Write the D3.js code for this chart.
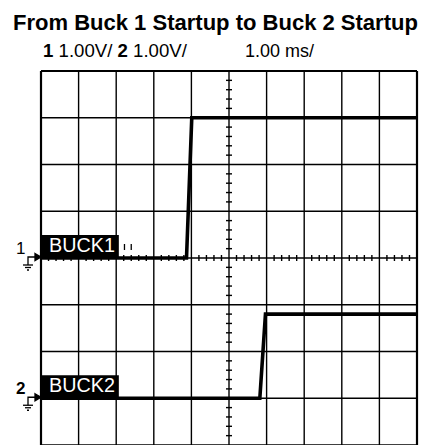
<!DOCTYPE html>
<html><head><meta charset="utf-8">
<script src="https://cdn.jsdelivr.net/npm/d3@7"></script>
<style>body{margin:0;background:#fff}svg{display:block}</style>
</head><body>
<svg id="c" width="428" height="445"></svg>
<script>
const title = "From Buck 1 Startup to Buck 2 Startup";
const timeDivs = d3.range(0, 11);        // ms grid lines (1.00 ms/div)
const voltDivs = d3.range(-4, 5);        // vertical divisions
const buck1Time = [0, 3.87, 4.01, 10];   // ms
const buck1Volt = [0, 0, 3.0, 3.0];      // V (1.00 V/div)
const buck2Time = [0, 5.82, 5.97, 10];
const buck2Volt = [0, 0, 1.8, 1.8];
const channelOffsets = [0, -3];          // ground position in divisions
const channelNames = ["BUCK1", "BUCK2"];
const markerTimes = [2.22, 2.4];

const FONT = "Liberation Sans, Arial, Helvetica, sans-serif";
const svg = d3.select("#c");
const x = d3.scaleLinear().domain([0, 10]).range([41, 417]);
const y = d3.scaleLinear().domain([4, -4]).range([71, 445]);

// fit a text's font size so that its width matches a target width
function fit(sel, base, target) {
  sel.attr("font-size", base);
  const w = sel.node().getBBox().width;
  sel.attr("font-size", base * target / w);
  return sel;
}

const t = svg.append("text").attr("x", 13).attr("y", 30)
  .attr("font-family", FONT).attr("font-weight", "bold").text(title);
fit(t, 20, 405);

const hdr = svg.append("text").attr("x", 43).attr("y", 57).attr("font-family", FONT);
hdr.append("tspan").attr("font-weight", "bold").text("1");
hdr.append("tspan").text(" 1.00V/ ");
hdr.append("tspan").attr("font-weight", "bold").text("2");
hdr.append("tspan").text(" 1.00V/");
fit(hdr, 15, 145);
const ms = svg.append("text").attr("x", 245).attr("y", 57)
  .attr("font-family", FONT).text("1.00 ms/");
fit(ms, 15, 70);

// grid
const g = svg.append("g");
g.selectAll(".vl").data(timeDivs).join("line")
  .attr("x1", d => x(d)).attr("x2", d => x(d)).attr("y1", y(4)).attr("y2", y(-4))
  .attr("stroke", "#000").attr("stroke-width", d => (d === 0 || d === 10) ? 2.2 : 1.4);
g.selectAll(".hl").data(voltDivs).join("line")
  .attr("x1", x(0)).attr("x2", x(10)).attr("y1", d => y(d)).attr("y2", d => y(d))
  .attr("stroke", "#000").attr("stroke-width", d => d === 4 ? 2.2 : 1.4);

// center axis minor ticks
const minorT = d3.range(0, 10.001, 0.2).filter(v => Math.abs(v - Math.round(v)) > 0.01);
g.selectAll(".mt").data(minorT).join("line")
  .attr("x1", d => x(d)).attr("x2", d => x(d)).attr("y1", y(0) - 3).attr("y2", y(0) + 3)
  .attr("stroke", "#000").attr("stroke-width", 1.4);
const minorV = d3.range(-4, 4.001, 0.2).filter(v => Math.abs(v - Math.round(v)) > 0.01);
g.selectAll(".mv").data(minorV).join("line")
  .attr("x1", x(5) - 3).attr("x2", x(5) + 3).attr("y1", d => y(d)).attr("y2", d => y(d))
  .attr("stroke", "#000").attr("stroke-width", 1.4);

// traces
const line = d3.line().x(d => x(d[0])).y(d => y(d[1]));
const traces = [
  d3.zip(buck1Time, buck1Volt.map(v => v + channelOffsets[0])),
  d3.zip(buck2Time, buck2Volt.map(v => v + channelOffsets[1]))
];
svg.selectAll(".tr").data(traces).join("path")
  .attr("d", line).attr("fill", "none").attr("stroke", "#000")
  .attr("stroke-width", 3.6).attr("stroke-linejoin", "miter");

// trigger marks
svg.selectAll(".tm").data(markerTimes).join("line")
  .attr("x1", d => x(d)).attr("x2", d => x(d)).attr("y1", y(0) - 14).attr("y2", y(0) - 8)
  .attr("stroke", "#000").attr("stroke-width", 1.3);

// channel labels and ground markers
channelOffsets.forEach((off, i) => {
  const gy = y(off);
  svg.append("rect").attr("x", x(0)).attr("y", gy - 23).attr("width", x(2.07) - x(0)).attr("height", 23)
    .attr("fill", "#000");
  const lb = svg.append("text").attr("x", x(0) + 8).attr("y", gy - 6)
    .attr("font-family", FONT).attr("fill", "#fff").text(channelNames[i]);
  fit(lb, 15, 66);
  svg.append("text").attr("x", 16).attr("y", gy - 4)
    .attr("font-family", FONT).attr("font-size", 17)
    .attr("font-weight", i === 1 ? "bold" : "normal").text(String(i + 1));
  const m = svg.append("g").attr("stroke", "#000").attr("stroke-width", 1.3).attr("fill", "none");
  m.append("path").attr("d", `M28,${gy + 7} V${gy - 1} H36`);
  m.append("path").attr("d", `M35,${gy - 4.5} L41,${gy - 1} L35,${gy + 2.5} Z`).attr("fill", "#000");
  m.append("line").attr("x1", 23).attr("x2", 33).attr("y1", gy + 7).attr("y2", gy + 7);
  m.append("line").attr("x1", 25).attr("x2", 31).attr("y1", gy + 9.5).attr("y2", gy + 9.5);
  m.append("line").attr("x1", 27).attr("x2", 29).attr("y1", gy + 12).attr("y2", gy + 12);
});
</script>
</body></html>
